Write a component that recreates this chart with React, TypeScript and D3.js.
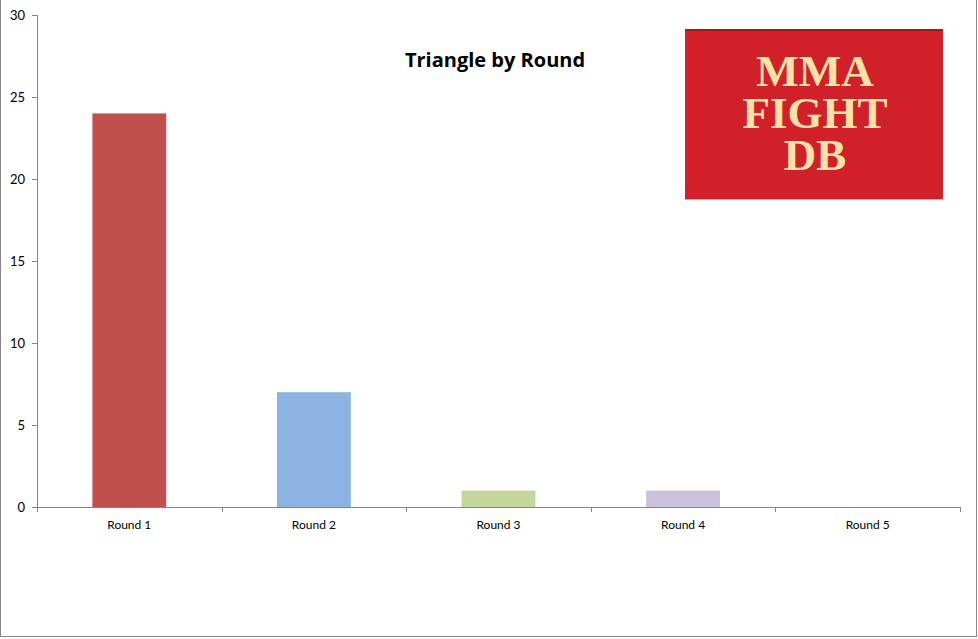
import React from "react";
import * as d3 from "d3";

const categories = ["Round 1", "Round 2", "Round 3", "Round 4", "Round 5"];
const values = [24, 7, 1, 1, 0];
const colors = ["#C0504D", "#8DB3E2", "#C3D69B", "#CCC1DA", "#F79646"];
const yTicks = [0, 5, 10, 15, 20, 25, 30];
const title = "Triangle by Round";
const logoLines = ["MMA", "FIGHT", "DB"];

const W = 978;
const H = 639;
const plot = { left: 37, right: 960, top: 15, bottom: 507 };

export default function App() {
  const x = d3
    .scaleBand<string>()
    .domain(categories)
    .range([plot.left, plot.right])
    .paddingInner(0)
    .paddingOuter(0);
  const y = d3.scaleLinear().domain([0, 30]).range([plot.bottom, plot.top]);
  const bw = x.bandwidth() * 0.4;
  const font = "Lato, 'Open Sans', sans-serif";

  const bandEdges = categories.map((c) => x(c) as number).concat([plot.right]);

  return (
    <svg
      width={W}
      height={H}
      style={{ position: "absolute", left: 0, top: 0, background: "#fff" }}
    >
      <rect x={0.5} y={-1} width={W - 2} height={H - 1.5} fill="#fff" stroke="#878787" strokeWidth={1} />
      {/* y axis */}
      <line x1={plot.left + 0.5} x2={plot.left + 0.5} y1={plot.top} y2={plot.bottom} stroke="#868686" />
      {yTicks.map((t) => (
        <g key={t}>
          <line x1={plot.left - 5} x2={plot.left} y1={Math.round(y(t)) + 0.5} y2={Math.round(y(t)) + 0.5} stroke="#868686" />
          <text x={25} y={y(t) + 4.5} textAnchor="end" fontFamily={font} fontSize={13} fill="#000">
            {t}
          </text>
        </g>
      ))}
      {/* bars */}
      {categories.map((c, i) => {
        const cx = (x(c) as number) + x.bandwidth() / 2;
        const v = values[i];
        return v > 0 ? (
          <rect key={c} x={cx - bw / 2} y={y(v)} width={bw} height={y(0) - y(v)} fill={colors[i]} />
        ) : null;
      })}
      {/* x axis */}
      <line x1={plot.left} x2={plot.right} y1={plot.bottom + 0.5} y2={plot.bottom + 0.5} stroke="#868686" />
      {bandEdges.map((e, i) => (
        <line key={i} x1={Math.round(e) + 0.5} x2={Math.round(e) + 0.5} y1={plot.bottom} y2={plot.bottom + 5} stroke="#868686" />
      ))}
      {categories.map((c) => (
        <text
          key={c}
          x={(x(c) as number) + x.bandwidth() / 2}
          y={529}
          textAnchor="middle"
          fontFamily={font}
          fontSize={12}
          fill="#000"
        >
          {c}
        </text>
      ))}
      {/* title */}
      <text x={495} y={67} textAnchor="middle" fontFamily="'Open Sans', sans-serif" fontWeight="bold" fontSize={20} fill="#000">
        {title}
      </text>
      {/* logo */}
      <rect x={685} y={29} width={258} height={170} fill="#D0202A" />
      <rect x={685} y={29} width={258} height={2} fill="#A8151D" />
      <line x1={685} x2={943} y1={199.5} y2={199.5} stroke="#B8B8B8" />
      <text
        textAnchor="middle"
        fontFamily="'Liberation Serif', serif"
        fontWeight="bold"
        fontSize={45}
        fill="#FCE2A6"
      >
        {logoLines.map((l, i) => (
          <tspan key={l} x={815} y={86 + i * 42}>
            {l}
          </tspan>
        ))}
      </text>
    </svg>
  );
}
